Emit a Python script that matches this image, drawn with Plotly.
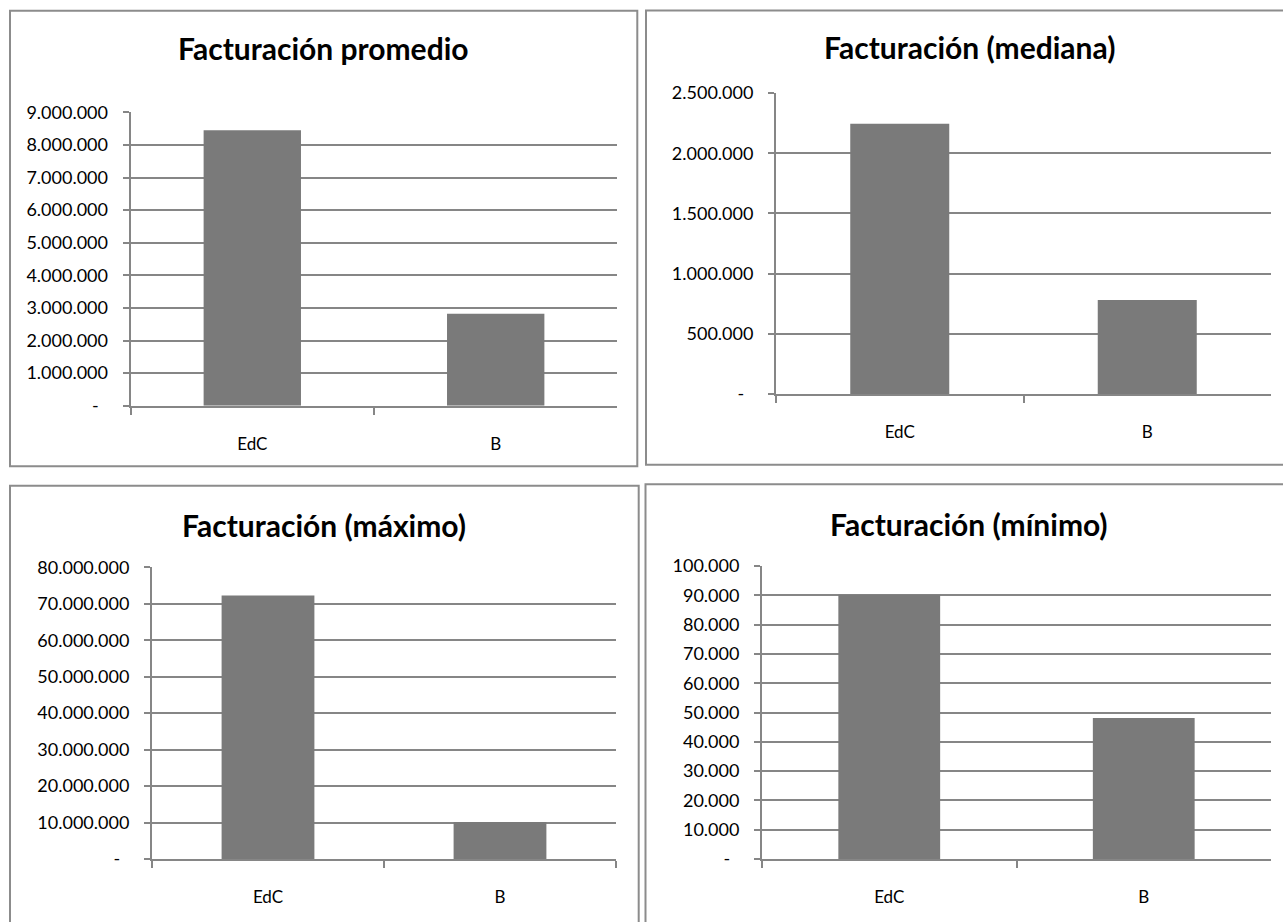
import plotly.graph_objects as go

W, H = 1283, 922

categories = ["EdC", "B"]

titles = [
    "Facturación promedio",
    "Facturación (mediana)",
    "Facturación (máximo)",
    "Facturación (mínimo)",
]

promedio = [8450000, 2820000]
mediana = [2244000, 780000]
maximo = [72300000, 10150000]
minimo = [90200, 48100]

promedio_ticks = [0, 1000000, 2000000, 3000000, 4000000, 5000000, 6000000, 7000000, 8000000, 9000000]
promedio_labels = ["-\u00a0\u00a0", "1.000.000", "2.000.000", "3.000.000", "4.000.000",
                   "5.000.000", "6.000.000", "7.000.000", "8.000.000", "9.000.000"]

mediana_ticks = [0, 500000, 1000000, 1500000, 2000000, 2500000]
mediana_labels = ["-\u00a0\u00a0", "500.000", "1.000.000", "1.500.000", "2.000.000", "2.500.000"]

maximo_ticks = [0, 10000000, 20000000, 30000000, 40000000, 50000000, 60000000, 70000000, 80000000]
maximo_labels = ["-\u00a0\u00a0", "10.000.000", "20.000.000", "30.000.000", "40.000.000",
                 "50.000.000", "60.000.000", "70.000.000", "80.000.000"]

minimo_ticks = [0, 10000, 20000, 30000, 40000, 50000, 60000, 70000, 80000, 90000, 100000]
minimo_labels = ["-\u00a0\u00a0", "10.000", "20.000", "30.000", "40.000", "50.000",
                 "60.000", "70.000", "80.000", "90.000", "100.000"]

GRID = "#868686"
BAR = "#7a7a7a"
FONT = "Lato"


def px_x(v):
    return v / W


def px_y(v):
    return 1 - v / H


# panel layout in pixels: plot box (x0, x1, ytop, ybottom) and frame (x0, x1, y0, y1)
panels = [
    dict(plot=(130.6, 617.4, 112.3, 405.7), frame=(10, 637.3, 10.7, 466.3),
         values=promedio, ticks=promedio_ticks, labels=promedio_labels, title_y=48),
    dict(plot=(776, 1271, 93, 394), frame=(646, 1292, 10.5, 464.7),
         values=mediana, ticks=mediana_ticks, labels=mediana_labels, title_y=47),
    dict(plot=(152, 616, 567.3, 859), frame=(10, 638.7, 485.7, 935),
         values=maximo, ticks=maximo_ticks, labels=maximo_labels, title_y=525),
    dict(plot=(762, 1271, 566, 859), frame=(645.5, 1292, 484.3, 935),
         values=minimo, ticks=minimo_ticks, labels=minimo_labels, title_y=524),
]

fig = go.Figure()
shapes = []
annotations = []

for i, p in enumerate(panels):
    n = "" if i == 0 else str(i + 1)
    xa, ya = "x" + n, "y" + n
    fig.add_trace(go.Bar(x=categories, y=p["values"], marker=dict(color=BAR, line=dict(width=0)),
                         xaxis=xa, yaxis=ya, showlegend=False, hoverinfo="skip"))
    x0, x1, yt, yb = p["plot"]
    fig.layout["xaxis" + n] = dict(
        domain=[px_x(x0), px_x(x1)], anchor=ya, type="category", automargin=False,
        showline=True, linecolor=GRID, linewidth=2,
        ticks="outside", tickson="boundaries", ticklen=7, tickwidth=2, tickcolor=GRID,
        showgrid=False, zeroline=False, ticklabelstandoff=22,
        tickfont=dict(family=FONT, size=17, color="black"), fixedrange=True,
    )
    fig.layout["yaxis" + n] = dict(
        domain=[px_y(yb), px_y(yt)], anchor=xa, range=[0, p["ticks"][-1]], automargin=False,
        tickmode="array", tickvals=p["ticks"], ticktext=p["labels"],
        showline=True, linecolor=GRID, linewidth=2,
        ticks="outside", ticklen=6, tickwidth=2, tickcolor=GRID,
        showgrid=True, gridcolor=GRID, gridwidth=2, zeroline=False,
        ticklabelstandoff=11,
        tickfont=dict(family=FONT, size=18, color="black"), fixedrange=True,
    )
    fx0, fx1, fy0, fy1 = p["frame"]
    shapes.append(dict(type="rect", xref="paper", yref="paper",
                       x0=px_x(fx0), x1=px_x(fx1), y0=px_y(fy1), y1=px_y(fy0),
                       line=dict(color="#8c8c8c", width=2), fillcolor="rgba(0,0,0,0)",
                       layer="below"))
    annotations.append(dict(text="<b>" + titles[i] + "</b>", xref="paper", yref="paper",
                            x=px_x((fx0 + min(fx1, 1292)) / 2), y=px_y(p["title_y"]),
                            xanchor="center", yanchor="middle", showarrow=False,
                            font=dict(family=FONT, size=30, color="black")))

fig.update_layout(
    template="none",
    width=W, height=H, margin=dict(l=0, r=0, t=0, b=0, pad=0, autoexpand=False),
    paper_bgcolor="white", plot_bgcolor="white",
    bargap=0.6, shapes=shapes, annotations=annotations,
)

fig.write_html("out.html", config={"displayModeBar": False})
